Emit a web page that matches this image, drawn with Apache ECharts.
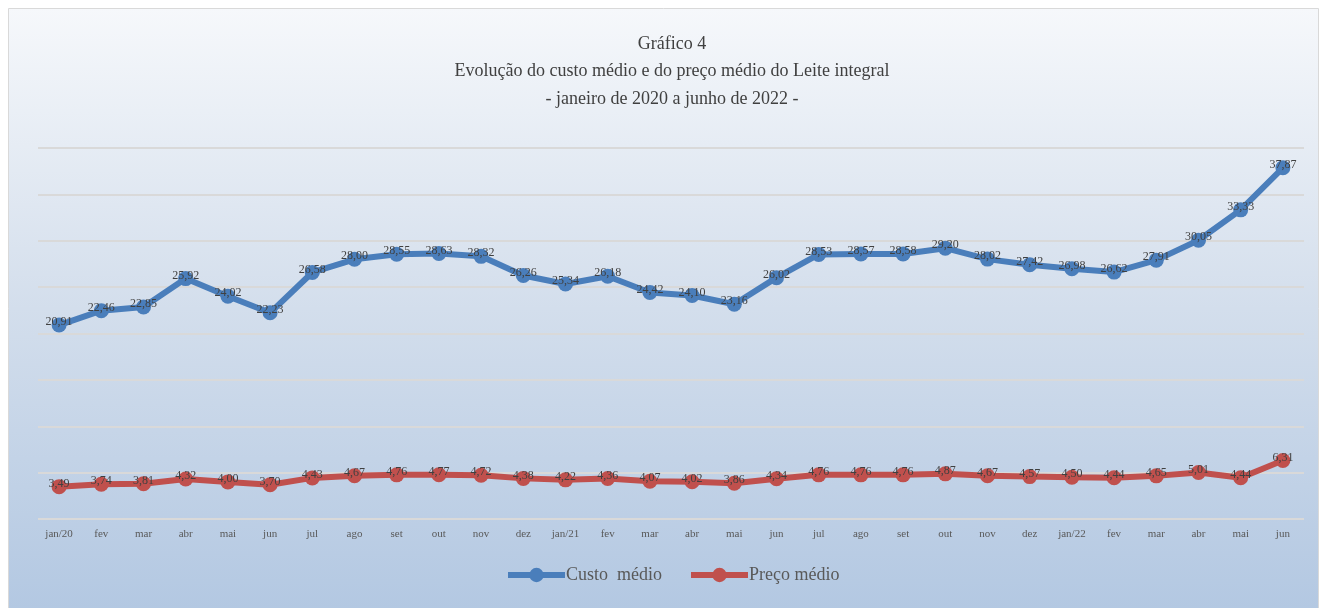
<!DOCTYPE html>
<html><head><meta charset="utf-8">
<script src="https://cdn.jsdelivr.net/npm/echarts@6/dist/echarts.min.js"></script>
<style>html,body{margin:0;padding:0;background:#fff}#c{width:1320px;height:608px}</style>
</head><body><div id="c"></div>
<script>
const categories = ['jan/20','fev','mar','abr','mai','jun','jul','ago','set','out','nov','dez','jan/21','fev','mar','abr','mai','jun','jul','ago','set','out','nov','dez','jan/22','fev','mar','abr','mai','jun'];
const custoMedio = [20.91,22.46,22.85,25.92,24.02,22.23,26.58,28.00,28.55,28.63,28.32,26.26,25.34,26.18,24.42,24.10,23.16,26.02,28.53,28.57,28.58,29.20,28.02,27.42,26.98,26.62,27.91,30.05,33.33,37.87];
const precoMedio = [3.49,3.74,3.81,4.32,4.00,3.70,4.43,4.67,4.76,4.77,4.72,4.38,4.22,4.36,4.07,4.02,3.86,4.34,4.76,4.76,4.76,4.87,4.67,4.57,4.50,4.44,4.65,5.01,4.44,6.31];
const titleLines = ['Gráfico 4','Evolução do custo médio e do preço médio do Leite integral','- janeiro de 2020 a junho de 2022 -'];

const FONT = '"Liberation Serif","Times New Roman",serif';
const fmt = p => p.value.toFixed(2).replace('.', ',');
const chart = echarts.init(document.getElementById('c'));
chart.setOption({
  animation: false,
  graphic: [{
    type: 'rect', left: 8, top: 8, z: -10,
    shape: {width: 1310, height: 600},
    style: {
      fill: new echarts.graphic.LinearGradient(0,0,0,1,[{offset:0,color:'#f6f8fb'},{offset:0.5,color:'#d3deec'},{offset:1,color:'#b3c8e2'}]),
      stroke: '#d9d9d9', lineWidth: 1
    }
  }],
  title: titleLines.map((t,i) => ({
    text: t, left: 667, top: 30 + i*27.5, textAlign: 'center',
    textStyle: {fontFamily: FONT, fontSize: 18, fontWeight: 'normal', color: '#404040'}
  })),
  legend: {
    top: 561, left: 500,
    itemWidth: 57, itemHeight: 18, itemGap: 26,
    lineStyle: {width: 6},
    textStyle: {fontFamily: FONT, fontSize: 18, color: '#595959', padding: [0,0,0,-4]},
    data: ['Custo  médio','Preço médio']
  },
  grid: {left: 38, right: 16, top: 148, bottom: 89},
  xAxis: {
    type: 'category', data: categories, boundaryGap: true,
    axisLine: {show: false}, axisTick: {show: false},
    axisLabel: {fontFamily: FONT, fontSize: 11, color: '#595959', margin: 10}
  },
  yAxis: {
    type: 'value', min: 0, max: 40, interval: 5,
    axisLabel: {show: false}, axisLine: {show: false}, axisTick: {show: false},
    splitLine: {lineStyle: {color: '#d9d9d9', width: 2}}
  },
  series: [{
    name: 'Custo  médio', type: 'line', data: custoMedio,
    symbol: 'circle', symbolSize: 15,
    lineStyle: {width: 6, color: '#4a7ebb'}, itemStyle: {color: '#4a7ebb'},
    label: {show: true, position: 'inside', offset: [0,-3], formatter: fmt, fontFamily: FONT, fontSize: 12, color: '#404040'}
  },{
    name: 'Preço médio', type: 'line', data: precoMedio,
    symbol: 'circle', symbolSize: 15,
    lineStyle: {width: 6, color: '#c0504d'}, itemStyle: {color: '#c0504d'},
    label: {show: true, position: 'inside', offset: [0,-3], formatter: fmt, fontFamily: FONT, fontSize: 12, color: '#404040'}
  }]
});
</script></body></html>
